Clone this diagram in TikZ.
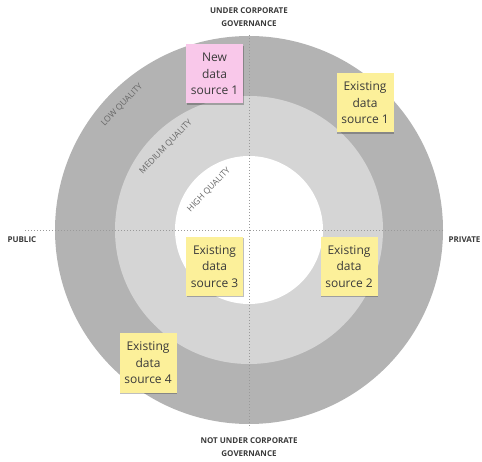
\documentclass[tikz,border=0pt]{standalone}
\usepackage{fontspec}
\setmainfont{Open Sans}
\usetikzlibrary{shadows}
\definecolor{outerring}{HTML}{B3B3B3}
\definecolor{midring}{HTML}{D5D5D5}
\definecolor{stickyyellow}{HTML}{FCF09A}
\definecolor{stickypink}{HTML}{F9C8EA}
\definecolor{axisline}{HTML}{9A9A9A}
\definecolor{ringtext}{HTML}{666666}
\definecolor{labeltext}{HTML}{3A3A3A}
\tikzset{
  sticky/.style={minimum width=57pt, minimum height=59pt, inner sep=0pt, align=center,
    text=labeltext, font=\fontsize{12}{16.5}\selectfont,
    drop shadow={shadow xshift=0.6pt, shadow yshift=-1.2pt, opacity=0.25, fill=black}},
  yellownote/.style={sticky, fill=stickyyellow},
  pinknote/.style={sticky, fill=stickypink},
  axislabel/.style={align=center, text=labeltext, font=\fontsize{8}{12.5}\selectfont\bfseries},
  ringlabel/.style={text=ringtext, inner sep=0pt, font=\fontsize{8.5}{9}\selectfont, rotate=46},
  axis/.style={axisline, dotted, line width=1pt}
}
\begin{document}
\begin{tikzpicture}[x=1pt,y=-1pt]
\useasboundingbox (0,0) rectangle (482,462);
\coordinate (c) at (249,230);
\fill[outerring] (c) circle[radius=194];
\fill[midring] (c) circle[radius=134];
\fill[white] (c) circle[radius=74];
% axes
\coordinate (top) at (249,35);
\coordinate (bottom) at (249,428);
\coordinate (left) at (25,231);
\coordinate (right) at (443,231);
\draw[axis] (top) -- (bottom);
\draw[axis] (left) -- (right);
% axis labels
\node[axislabel] (ucg) at (249,17) {UNDER CORPORATE\\GOVERNANCE};
\node[axislabel] (nucg) at (249,447) {NOT UNDER CORPORATE\\GOVERNANCE};
\node[axislabel, anchor=west] (pub) at (4,240) {PUBLIC};
\node[axislabel, anchor=east] (priv) at (484,240) {PRIVATE};
% ring labels
\node[ringlabel] (low) at (122,105) {LOW QUALITY};
\node[ringlabel] (med) at (166,147) {MEDIUM QUALITY};
\node[ringlabel] (high) at (209,190) {HIGH QUALITY};
% sticky notes
\node[pinknote] (new1) at (214.5,74) {New\\data\\source 1};
\node[yellownote] (ex1) at (365,103) {Existing\\data\\source 1};
\node[yellownote] (ex3) at (214.5,266.5) {Existing\\data\\source 3};
\node[yellownote] (ex2) at (349,266.5) {Existing\\data\\source 2};
\node[yellownote] (ex4) at (148,363) {Existing\\data\\source 4};
\end{tikzpicture}
\end{document}
